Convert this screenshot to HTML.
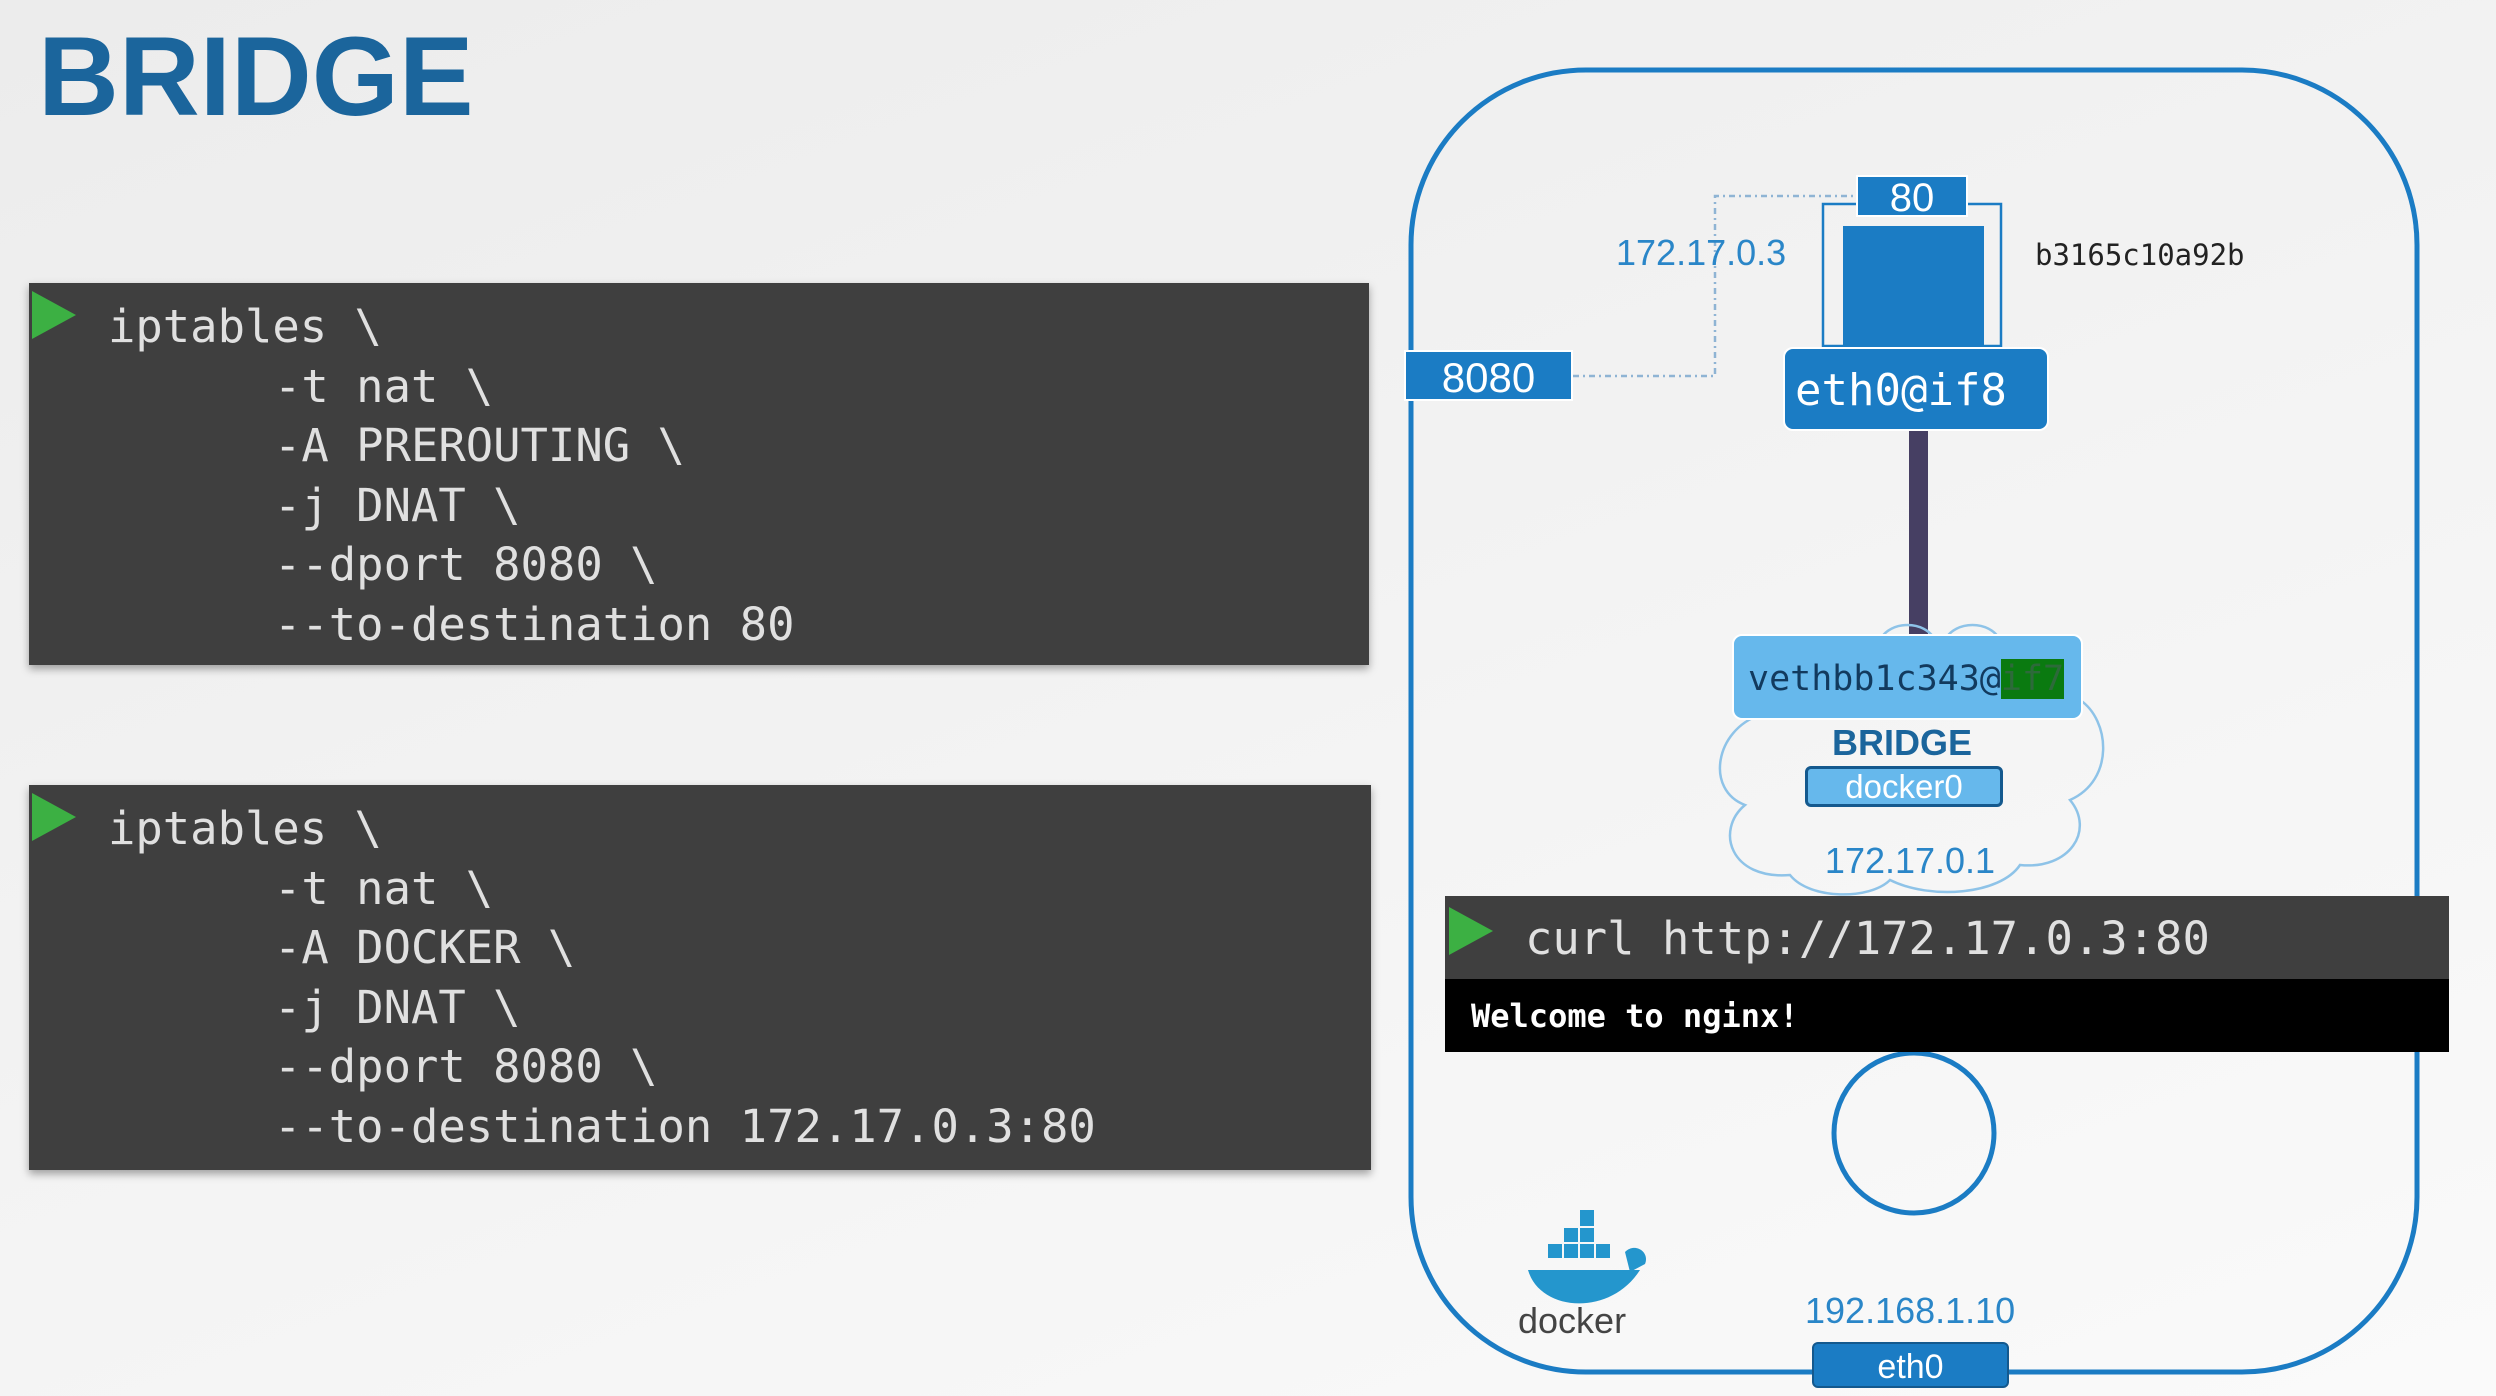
<!DOCTYPE html>
<html><head><meta charset="utf-8"><style>
*{margin:0;padding:0;box-sizing:border-box}
body{width:2496px;height:1396px;position:relative;overflow:hidden;background:linear-gradient(160deg,#ececec 0%,#f3f3f3 50%,#fafafa 100%);font-family:"Liberation Sans",sans-serif}
.a{position:absolute}
.mono{font-family:"DejaVu Sans Mono","Liberation Mono",monospace}
.code{background:#3f3f3f;box-shadow:0 4px 8px rgba(0,0,0,.35)}
.code div{position:absolute;color:#e0e0e0;font-size:45.5px;white-space:pre;line-height:60px}
.tri{width:0;height:0;border-top:24px solid transparent;border-bottom:24px solid transparent;border-left:44px solid #3cb043}
.blue{background:#1b7cc4;color:#fff;text-align:center}
</style></head><body>
<div class="a" style="left:38px;top:12px;font-size:112px;font-weight:bold;color:#1b659c">BRIDGE</div>

<div class="a code" style="left:29px;top:283px;width:1340px;height:382px">
 <div class="a tri" style="left:3px;top:8px;position:absolute"></div>
 <div class="mono" style="left:79px;top:14px">iptables \</div>
 <div class="mono" style="left:245px;top:74px">-t nat \</div>
 <div class="mono" style="left:245px;top:133px">-A PREROUTING \</div>
 <div class="mono" style="left:245px;top:193px">-j DNAT \</div>
 <div class="mono" style="left:245px;top:252px">--dport 8080 \</div>
 <div class="mono" style="left:245px;top:312px">--to-destination 80</div>
</div>
<div class="a code" style="left:29px;top:785px;width:1342px;height:385px">
 <div class="a tri" style="left:3px;top:8px;position:absolute"></div>
 <div class="mono" style="left:79px;top:14px">iptables \</div>
 <div class="mono" style="left:245px;top:74px">-t nat \</div>
 <div class="mono" style="left:245px;top:133px">-A DOCKER \</div>
 <div class="mono" style="left:245px;top:193px">-j DNAT \</div>
 <div class="mono" style="left:245px;top:252px">--dport 8080 \</div>
 <div class="mono" style="left:245px;top:312px">--to-destination 172.17.0.3:80</div>
</div>

<svg class="a" style="left:0;top:0" width="2496" height="1396">
 <rect x="1411" y="70" width="1006" height="1302" rx="175" fill="none" stroke="#1b7cc4" stroke-width="5"/>
 <polyline points="1573,376 1715,376 1715,196 1856,196" fill="none" stroke="#8fb4d4" stroke-width="2.5" stroke-dasharray="6,4,2,4"/>
 <rect x="1823" y="204" width="178" height="142" fill="none" stroke="#1b7cc4" stroke-width="2.5"/>
 <rect x="1843" y="226" width="141" height="120" fill="#1b7cc4"/>
 <rect x="1909" y="431" width="19" height="205" fill="#463f63"/>
 <path d="M1760,715 C1715,730 1705,790 1745,805 C1715,830 1730,880 1790,875 C1810,900 1870,900 1890,880 C1930,900 2000,895 2020,865 C2070,870 2095,830 2070,800 C2115,780 2110,720 2080,700 M1880,640 C1890,620 1925,620 1935,640 M1945,640 C1955,620 1990,620 2000,640" fill="none" stroke="#8ec3e8" stroke-width="2.5"/>
 <circle cx="1914" cy="1133" r="80" fill="none" stroke="#1b7cc4" stroke-width="5"/>
 <g fill="#2496cd" transform="translate(0,-18)">
  <path d="M1528,1288 C1540,1330 1610,1335 1640,1288 Z"/>
  <rect x="1548" y="1262" width="14" height="14"/><rect x="1564" y="1262" width="14" height="14"/><rect x="1580" y="1262" width="14" height="14"/><rect x="1596" y="1262" width="14" height="14"/>
  <rect x="1564" y="1246" width="14" height="14"/><rect x="1580" y="1246" width="14" height="14"/><rect x="1580" y="1228" width="14" height="16"/>
  <path d="M1625,1270 C1635,1260 1650,1270 1645,1282 L1630,1290 Z"/>
 </g>
</svg>

<div class="a blue" style="left:1856px;top:175px;width:112px;height:42px;font-size:40px;line-height:42px;border:2px solid #fff">80</div>
<div class="a" style="left:1616px;top:232px;font-size:36px;color:#2a86c8">172.17.0.3</div>
<div class="a mono" style="left:2035px;top:238px;font-size:29px;color:#222">b3165c10a92b</div>
<div class="a blue" style="left:1404px;top:350px;width:169px;height:51px;font-size:42px;line-height:51px;border:2px solid #fff">8080</div>
<div class="a blue mono" style="left:1783px;top:347px;width:266px;height:84px;border-radius:10px;font-size:44px;line-height:84px;text-align:left;padding-left:10px;border:2px solid #fff">eth0@if8</div>
<div class="a mono" style="left:1732px;top:634px;width:351px;height:86px;border-radius:10px;background:#66b8ec;color:#123a5e;font-size:35px;line-height:86px;padding-left:14px;border:2px solid #fff">vethbb1c343@<span style="background:#0a7a10;color:#2d6a3a">if7</span></div>
<div class="a" style="left:1802px;top:722px;width:200px;text-align:center;font-size:36px;font-weight:bold;color:#1b659c">BRIDGE</div>
<div class="a" style="left:1805px;top:766px;width:198px;height:41px;background:#66b8ec;border:3px solid #14598e;border-radius:6px;color:#fff;font-size:33px;line-height:35px;text-align:center">docker0</div>
<div class="a" style="left:1810px;top:840px;width:200px;text-align:center;font-size:36px;color:#2a86c8">172.17.0.1</div>

<div class="a" style="left:1445px;top:896px;width:1004px;height:83px;background:#3f3f3f"></div>
<div class="a tri" style="left:1449px;top:907px"></div>
<div class="a mono" style="left:1525px;top:912px;font-size:45.5px;color:#e0e0e0">curl http://172.17.0.3:80</div>
<div class="a" style="left:1445px;top:979px;width:1004px;height:73px;background:#000"></div>
<div class="a mono" style="left:1471px;top:997px;font-size:32px;color:#fff;font-weight:bold">Welcome to nginx!</div>

<div class="a" style="left:1518px;top:1300px;font-size:36px;color:#444">docker</div>
<div class="a" style="left:1805px;top:1290px;width:205px;text-align:center;font-size:36px;color:#2a86c8">192.168.1.10</div>
<div class="a blue" style="left:1812px;top:1342px;width:197px;height:46px;border-radius:6px;font-size:34px;line-height:46px;border:2px solid #14598e">eth0</div>
</body></html>
